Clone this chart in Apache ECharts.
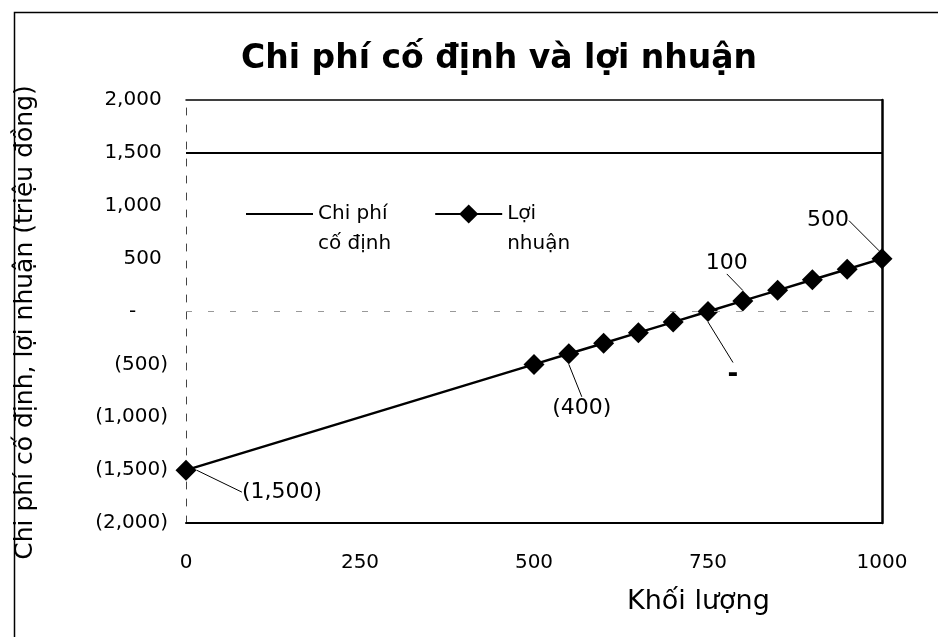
<!DOCTYPE html>
<html>
<head>
<meta charset="utf-8">
<script src="https://cdn.jsdelivr.net/npm/echarts@6/dist/echarts.min.js"></script>
<style>
  html, body { margin: 0; padding: 0; background: #fff; }
  #chart { width: 938px; height: 637px; }
</style>
</head>
<body>
<div id="chart"></div>
<script>
// Volume (x) and profit (y, million VND)
const volume = [0, 500, 550, 600, 650, 700, 750, 800, 850, 900, 950, 1000];
const profit = [-1500, -500, -400, -300, -200, -100, 0, 100, 200, 300, 400, 500];
// Fixed cost stays flat across the whole volume range
const fixedVolume = [0, 1000];
const fixedCost = [1500, 1500];
// Points that carry a value label
const labelledIdx = [0, 2, 6, 7, 11];

const FONT = 'DejaVu Sans';

// Accounting-style number format: negatives in parentheses, zero as a dash
function acct(v) {
  if (v === 0) return '-';
  const s = Math.abs(v).toLocaleString('en-US');
  return v < 0 ? '(' + s + ')' : s;
}
function acctAxis(v) {
  if (v === 0) return '-\u2007\u2007 ';
  return v < 0 ? acct(v) : acct(v) + ' ';
}

// label offsets from each labelled marker
const labelShift = {
  0: [96, 22],
  2: [13, 54],
  6: [25, 64],
  7: [-16, -38],
  11: [-54, -38]
};

const profitData = volume.map((x, i) => ({
  value: [x, profit[i]],
  label: { show: labelledIdx.indexOf(i) >= 0 }
}));
const fixedData = fixedVolume.map((x, i) => [x, fixedCost[i]]);

const chart = echarts.init(document.getElementById('chart'), null, { renderer: 'canvas' });

const option = {
  backgroundColor: '#fff',
  animation: false,
  title: {
    text: 'Chi phí cố định và lợi nhuận',
    left: 494,
    top: 38,
    textAlign: 'center',
    textStyle: { fontFamily: FONT, fontWeight: 'bold', fontSize: 33, color: '#000' }
  },
  legend: {
    left: 240,
    top: 164,
    itemWidth: 67,
    itemHeight: 24,
    itemGap: 43,
    data: [
      { name: 'Chi phí cố định', itemStyle: { opacity: 0 } },
      { name: 'Lợi nhuận' }
    ],
    // leading blank line keeps the first text line level with the key
    formatter: function (name) {
      return name === 'Chi phí cố định' ? '\nChi phí\ncố định' : '\nLợi\nnhuận';
    },
    textStyle: { fontFamily: FONT, fontSize: 20, color: '#000', lineHeight: 30 }
  },
  grid: { left: 186, right: 56, top: 100, bottom: 114, containLabel: false },
  xAxis: [
    {
      type: 'value',
      min: 0,
      max: 1000,
      interval: 250,
      position: 'bottom',
      axisLine: { show: true, onZero: false, lineStyle: { color: '#000', width: 2 } },
      axisTick: { show: false },
      splitLine: { show: false },
      axisLabel: {
        margin: 30,
        fontFamily: FONT, fontSize: 20, color: '#000',
        formatter: v => String(v)
      }
    },
    {
      type: 'value',
      min: 0,
      max: 1000,
      position: 'top',
      axisLine: { show: true, onZero: false, lineStyle: { color: '#000', width: 1.5 } },
      axisTick: { show: false },
      axisLabel: { show: false },
      splitLine: { show: false }
    }
  ],
  yAxis: [
    {
      type: 'value',
      min: -2000,
      max: 2000,
      interval: 500,
      position: 'left',
      name: 'Chi phí cố định, lợi nhuận (triệu đồng)',
      nameLocation: 'middle',
      nameGap: 148,
      nameRotate: 90,
      nameTextStyle: { fontFamily: FONT, fontSize: 25, color: '#000', padding: [0, 22, 0, 0] },
      axisLine: { show: true, onZero: false, lineStyle: { color: '#444', width: 1, type: [7, 10] } },
      axisTick: { show: false },
      splitLine: { show: false },
      axisLabel: {
        margin: 18,
        fontFamily: FONT, fontSize: 20, color: '#000',
        formatter: acctAxis
      }
    },
    {
      type: 'value',
      min: -2000,
      max: 2000,
      position: 'right',
      axisLine: { show: true, onZero: false, lineStyle: { color: '#000', width: 2.5 } },
      axisTick: { show: false },
      axisLabel: { show: false },
      splitLine: { show: false }
    }
  ],
  graphic: [
    {
      type: 'rect',
      left: 12, top: 10,
      shape: { width: 940, height: 640 },
      style: { fill: 'none', stroke: '#000', lineWidth: 1.5 },
      silent: true
    },
    {
      type: 'text',
      left: 627,
      top: 588,
      style: { text: 'Khối lượng', font: '27px "DejaVu Sans"', fill: '#000' }
    }
  ],
  series: [
    {
      name: 'Chi phí cố định',
      type: 'line',
      data: fixedData,
      showSymbol: false,
      symbol: 'none',
      lineStyle: { color: '#000', width: 2 },
      itemStyle: { color: '#000' },
      z: 3
    },
    {
      name: 'Lợi nhuận',
      type: 'line',
      data: profitData,
      symbol: 'diamond',
      symbolSize: 21,
      lineStyle: { color: '#000', width: 2.5 },
      itemStyle: { color: '#000' },
      label: {
        position: 'inside',
        fontFamily: FONT,
        fontSize: 22,
        color: '#000',
        formatter: p => (p.value[1] === 0 ? '{z|-}' : acct(p.value[1])),
        rich: { z: { fontFamily: FONT, fontSize: 26, fontWeight: 'bold', color: '#000' } }
      },
      labelLine: { show: true, lineStyle: { color: '#000', width: 1 } },
      labelLayout: function (params) {
        const s = labelShift[params.dataIndex] || [0, 0];
        return { dx: s[0], dy: s[1] };
      },
      markLine: {
        silent: true,
        symbol: 'none',
        label: { show: false },
        lineStyle: { color: '#999', width: 1, type: [6, 16] },
        data: [{ yAxis: 0 }]
      },
      z: 4
    }
  ]
};

chart.setOption(option);
</script>
</body>
</html>
